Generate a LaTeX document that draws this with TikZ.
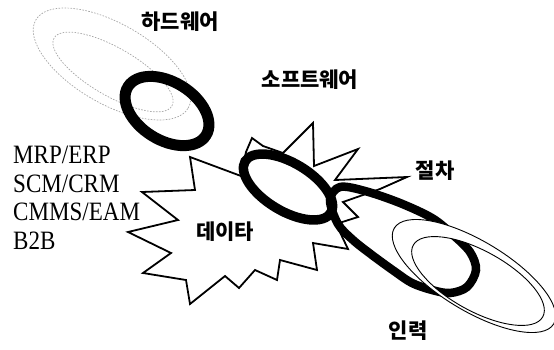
\documentclass[tikz,border=0pt]{standalone}
\usepackage{fontspec}
\newfontfamily\krfont{Noto Sans CJK KR}
\newfontfamily\latfont{Liberation Serif}[FakeStretch=0.87]
\begin{document}
\begin{tikzpicture}[x=1pt,y=-1pt,
  lbl/.style={font=\krfont\bfseries\fontsize{21}{21}\selectfont, inner sep=0pt},
  latline/.style={font=\latfont\fontsize{26.5}{28}\selectfont, inner sep=0pt, anchor=base west},
  hwdot/.style={draw=gray!70, line width=0.7pt, dash pattern=on 1.6pt off 1.4pt},
  burst/.style={draw=black, fill=white, line width=1.8pt, line join=miter},
  brush/.style={draw=black, line width=#1},
  ringline/.style={draw=black, line width=0.9pt}]
\useasboundingbox (0,0) rectangle (554,349);

% hardware: dotted double ellipse
\draw[hwdot, shift={(112,64)}, rotate=-30] (0,0) ellipse [x radius=88pt, y radius=40pt];
\draw[hwdot, shift={(113,72)}, rotate=-30] (0,0) ellipse [x radius=68pt, y radius=24pt];

% data burst
\draw[burst] (190,157) -- (241,176) -- (246,152) -- (252,138) -- (263,146) -- (283,153)
  -- (313,123) -- (314,166) -- (358,149) -- (335,180) -- (407,177) -- (380,189)
  -- (343,202) -- (358,217) -- (336,224) -- (348,249) -- (313,243) -- (317,270)
  -- (280,260) -- (277,280) -- (255,270) -- (239,288) -- (225,276) -- (190,304)
  -- (186,280) -- (143,273) -- (171,253) -- (128,232) -- (178,220) -- (142,192)
  -- (195,190) -- cycle;

% hardware thick ring
\draw[brush=11pt, shift={(167,111)}, rotate=-32] (0,0) ellipse [x radius=46pt, y radius=29pt];
% software thick ring
\draw[brush=9.5pt, shift={(288,187)}, rotate=-31] (0,0) ellipse [x radius=50pt, y radius=24pt];
% procedure loop
\def\procloop{plot[smooth cycle, tension=0.55] coordinates {
  (330,200) (340,187) (365,191) (400,203) (432,218) (452,234) (470,252) (476,270)
  (467,287) (450,293) (432,290) (412,283) (394,271) (372,255) (353,240) (338,224)}}
\draw[brush=8.5pt] \procloop;

% people: white ring (the loop shows through the inner hole)
\fill[white, shift={(474,276)}, rotate=-31] (0,0) ellipse [x radius=93pt, y radius=35pt];
\begin{scope}
  \clip[shift={(478,281)}, rotate=-29] (0,0) ellipse [x radius=74pt, y radius=30pt];
  \draw[brush=8.5pt] \procloop;
\end{scope}
\draw[ringline, shift={(474,276)}, rotate=-31] (0,0) ellipse [x radius=93pt, y radius=35pt];
\draw[ringline, shift={(478,281)}, rotate=-29] (0,0) ellipse [x radius=74pt, y radius=30pt];

% labels
\node[lbl] (hw) at (180,22) {하드웨어};
\node[lbl] (sw) at (310,80) {소프트웨어};
\node[lbl] (proc) at (435,171) {절차};
\node[lbl] (data) at (225,232) {데이타};
\node[lbl] (people) at (408,331) {인력};

\node[latline] (l1) at (13,163) {MRP/ERP};
\node[latline] (l2) at (13,192) {SCM/CRM};
\node[latline] (l3) at (13,220) {CMMS/EAM};
\node[latline] (l4) at (13,249) {B2B};
\end{tikzpicture}
\end{document}
